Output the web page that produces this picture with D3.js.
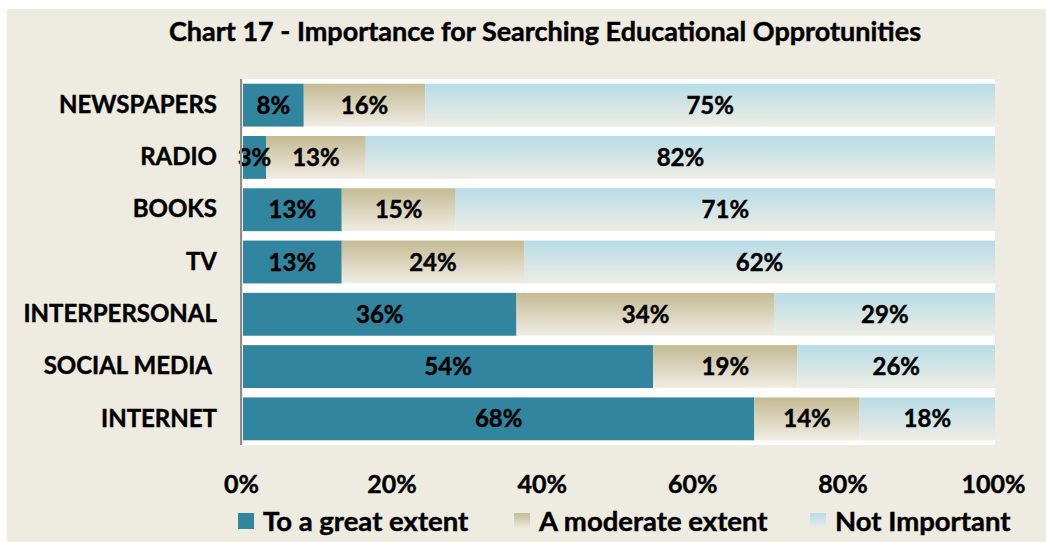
<!DOCTYPE html>
<html>
<head>
<meta charset="utf-8">
<script src="https://cdn.jsdelivr.net/npm/d3@7"></script>
<style>
    body { margin: 0; background: #ffffff; }
    svg text { font-family: Lato, "Open Sans", sans-serif; font-weight: bold; stroke: #000; stroke-width: 0.45px; white-space: pre; }
</style>
</head>
<body>
<div id="chart"></div>
<script>
// Chart data
var categories = ['NEWSPAPERS', 'RADIO', 'BOOKS', 'TV', 'INTERPERSONAL', 'SOCIAL MEDIA ', 'INTERNET'];
var seriesNames = ['To a great extent', 'A moderate extent', 'Not Important'];
var greatExtent = [8, 3, 13, 13, 36, 54, 68];
var moderateExtent = [16, 13, 15, 24, 34, 19, 14];
var notImportant = [75, 82, 71, 62, 29, 26, 18];
var xTicks = [0, 0.2, 0.4, 0.6, 0.8, 1];

var width = 1046;
var height = 542;
var margin = { top: 79, right: 51, bottom: 97, left: 243 };

var rows = categories.map((c, i) => ({
    category: c,
    great: greatExtent[i],
    moderate: moderateExtent[i],
    notimp: notImportant[i]
}));
var keys = ['great', 'moderate', 'notimp'];

// 100% stacked, like the original spreadsheet chart
var stacked = d3.stack().keys(keys).offset(d3.stackOffsetExpand)(rows);

var svg = d3.select('#chart')
    .append('svg')
    .attr('width', width)
    .attr('height', height);

// gradients for the lighter series
var defs = svg.append('defs');
function addGradient(id, top, bottom) {
    var g = defs.append('linearGradient')
        .attr('id', id)
        .attr('x1', 0).attr('y1', 0).attr('x2', 0).attr('y2', 1);
    g.append('stop').attr('offset', '0%').attr('stop-color', top);
    g.append('stop').attr('offset', '100%').attr('stop-color', bottom);
}
addGradient('gradModerate', '#c4ba93', '#f0ede4');
addGradient('gradNot', '#b7dce7', '#eeede4');

var fills = { great: '#31859f', moderate: 'url(#gradModerate)', notimp: 'url(#gradNot)' };

// chart background
svg.append('rect')
    .attr('x', 7).attr('y', 9)
    .attr('width', width - 7).attr('height', height - 9)
    .attr('fill', '#eeebe0');

var x = d3.scaleLinear()
    .domain([0, 1])
    .range([margin.left, width - margin.right]);

var y = d3.scaleBand()
    .domain(categories)
    .range([margin.top, height - margin.bottom])
    .paddingInner(0.18)
    .paddingOuter(0.09);

// plot area
svg.append('rect')
    .attr('x', x(0)).attr('y', margin.top)
    .attr('width', x(1) - x(0)).attr('height', height - margin.bottom - margin.top)
    .attr('fill', '#ffffff');

// bars
svg.append('g')
    .selectAll('g')
    .data(stacked)
    .join('g')
    .attr('fill', d => fills[d.key])
    .selectAll('rect')
    .data(d => d)
    .join('rect')
    .attr('x', d => x(d[0]))
    .attr('y', d => y(d.data.category))
    .attr('width', d => x(d[1]) - x(d[0]))
    .attr('height', y.bandwidth());

// value labels, drawn after all bars so small ones sit on top
svg.append('g')
    .selectAll('g')
    .data(stacked)
    .join('g')
    .each(function(layer) {
        d3.select(this).selectAll('text')
            .data(layer)
            .join('text')
            .attr('x', d => (x(d[0]) + x(d[1])) / 2)
            .attr('y', d => y(d.data.category) + y.bandwidth() / 2)
            .attr('dy', '0.36em')
            .attr('text-anchor', 'middle')
            .attr('font-size', '24px')
            .attr('fill', '#000')
            .text(d => d.data[layer.key] + '%');
    });

// y axis
var yAxis = svg.append('g')
    .attr('transform', `translate(${x(0) - 2}, 0)`)
    .call(d3.axisLeft(y).tickSize(0).tickPadding(24));
yAxis.select('.domain').attr('stroke', '#8c8c8c').attr('stroke-width', 2)
    .attr('d', `M0,${margin.top}V${height - margin.bottom}`);
yAxis.selectAll('text')
    .attr('font-size', '24px')
    .attr('fill', '#000');

// x axis
var xAxis = svg.append('g')
    .attr('transform', `translate(-2, ${height - margin.bottom})`)
    .call(d3.axisBottom(x).tickValues(xTicks).tickFormat(d3.format('.0%')).tickSize(0).tickPadding(30));
xAxis.select('.domain').remove();
xAxis.selectAll('text')
    .attr('font-size', '25px')
    .attr('fill', '#000');

// title
svg.append('text')
    .attr('x', 545)
    .attr('y', 41)
    .attr('text-anchor', 'middle')
    .attr('font-size', '27px')
    .attr('fill', '#000')
    .text('Chart 17 - Importance for Searching Educational Opprotunities');

// legend
var legendX = [238, 514, 810];
var legendFills = ['#31859f', 'url(#gradModerate)', 'url(#gradNot)'];
var legend = svg.append('g')
    .selectAll('g')
    .data(seriesNames)
    .join('g')
    .attr('transform', (d, i) => `translate(${legendX[i]}, 521)`);
legend.append('rect')
    .attr('x', 0).attr('y', -8)
    .attr('width', 16).attr('height', 16)
    .attr('fill', (d, i) => legendFills[i]);
legend.append('text')
    .attr('x', 25)
    .attr('dy', '0.36em')
    .attr('font-size', '27.5px')
    .attr('fill', '#000')
    .text(d => d);
</script>
</body>
</html>
